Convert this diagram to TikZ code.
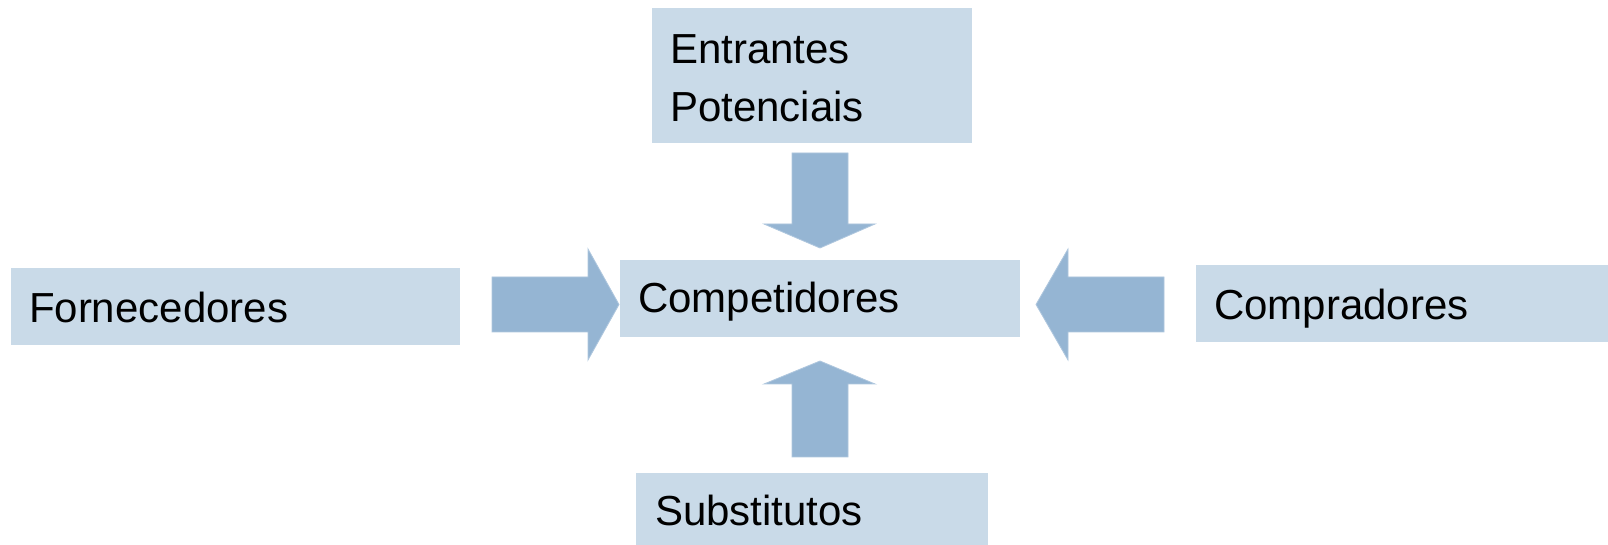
\documentclass[tikz,border=0pt]{standalone}
\usepackage{fontspec}
\setmainfont{Liberation Sans}
\definecolor{boxfill}{HTML}{C9DAE8}
\definecolor{arrowfill}{HTML}{95B5D3}
\definecolor{arrowline}{HTML}{AFC7DE}
\begin{document}
\begin{tikzpicture}[x=0.5pt,y=-0.5pt,
  box/.style={fill=boxfill, draw=none, inner sep=0pt, outer sep=0pt},
  lbl/.style={anchor=base west, inner sep=0pt, outer sep=0pt, font=\fontsize{21}{25}\selectfont, text=black},
  blockarrow/.style={fill=arrowfill, draw=arrowline, line width=0.4pt, line join=miter}]
\useasboundingbox (0,0) rectangle (1608,545);
\fill[white] (0,0) rectangle (1608,545);
% boxes
\node[box, minimum width=160pt, minimum height=67.5pt] (ent) at (812,75.5) {};
\node[box, minimum width=224.5pt, minimum height=38.5pt] (forn) at (235.5,306.5) {};
\node[box, minimum width=200pt, minimum height=38.5pt] (comp) at (820,298.5) {};
\node[box, minimum width=206pt, minimum height=38.5pt] (compr) at (1402,303.5) {};
\node[box, minimum width=176pt, minimum height=36pt] (subs) at (812,509) {};
% labels
\node[lbl] (entA) at (670,64) {Entrantes};
\node[lbl] (entB) at (670,122) {Potenciais};
\node[lbl] (fornT) at (29,323) {Fornecedores};
\node[lbl] (compT) at (638,313) {Competidores};
\node[lbl] (comprT) at (1214,320) {Compradores};
\node[lbl] (subsT) at (655,525) {Substitutos};
% block arrows
\filldraw[blockarrow] (792,153) -- (848,153) -- (848,224) -- (875,224) -- (820,248) -- (764,224) -- (792,224) -- cycle;
\filldraw[blockarrow] (792,457) -- (848,457) -- (848,384) -- (875,384) -- (820,361) -- (764,384) -- (792,384) -- cycle;
\filldraw[blockarrow] (492,277) -- (588,277) -- (588,249) -- (619,304.5) -- (588,360) -- (588,332) -- (492,332) -- cycle;
\filldraw[blockarrow] (1164,277) -- (1068,277) -- (1068,249) -- (1036,304.5) -- (1068,360) -- (1068,332) -- (1164,332) -- cycle;
\end{tikzpicture}
\end{document}
